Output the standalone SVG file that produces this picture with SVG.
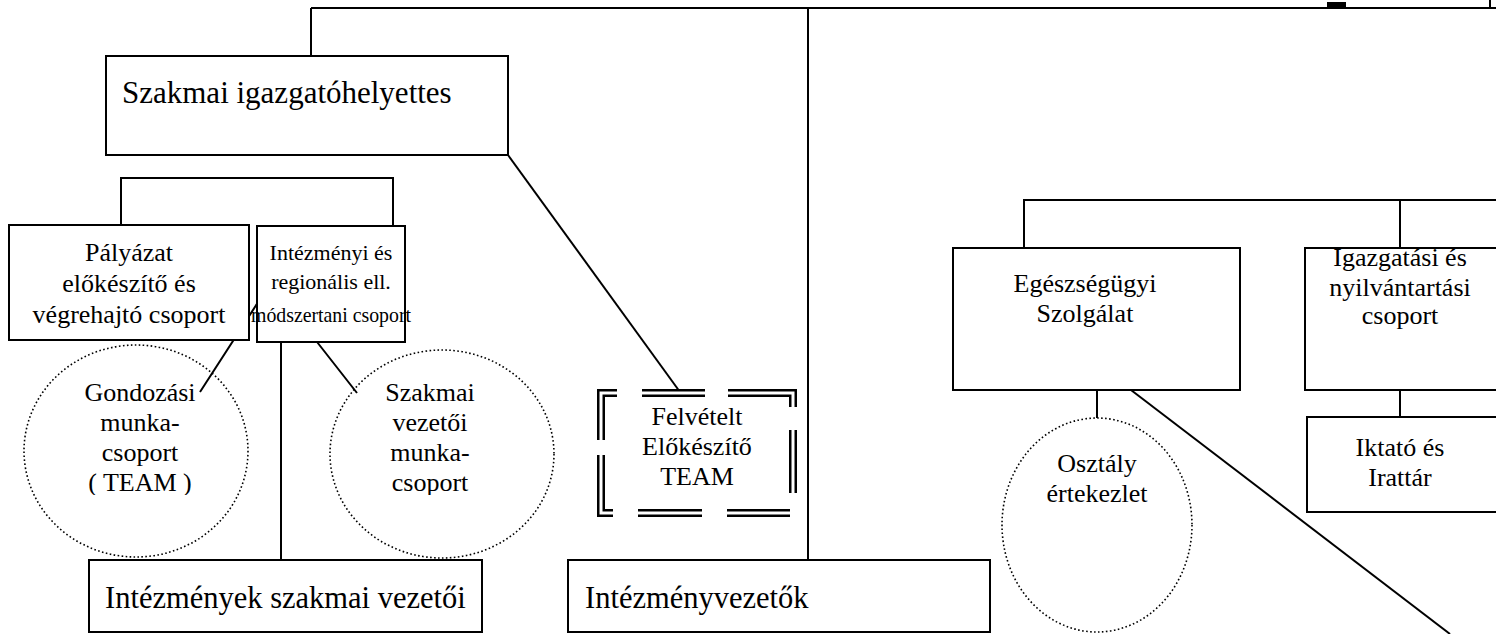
<svg xmlns="http://www.w3.org/2000/svg" width="1496" height="634" viewBox="0 0 1496 634">
<style>
.box{fill:#fff;stroke:#000;stroke-width:2}
.ln{stroke:#000;stroke-width:2;fill:none}
.dot{fill:none;stroke:#000;stroke-width:1.6;stroke-dasharray:1.6 2.4}
text{font-family:"Liberation Serif","Times New Roman",serif;fill:#000}
.big{font-size:31px}
.big2{font-size:30.5px}
.sm{font-size:26px;text-anchor:middle}
.xs{font-size:22px;text-anchor:middle}
</style>
<defs>
<clipPath id="clipC"><rect x="0" y="300" width="600" height="195"/></clipPath>
<path id="dbox" d="M601,440 V393 H617 M642,393 H705 M728,393 H793 V407 M793,430 V493 M790,513 H727 M702,513 H638 M613,513 H601 V455"/>
</defs>
<g id="connectors">
<path class="ln" d="M311,8 H1496 M311,8 V56 M1490,0 V8"/>
<rect x="1327" y="2" width="19" height="5" fill="#000"/>
<path class="ln" d="M808,8 V560"/>
<path class="ln" d="M121,225 V178 H393 V226"/>
<path class="ln" d="M508,155 L680,392"/>
<path class="ln" d="M262,296 L200,392 M281,296 L357,393 M281,342 V560"/>
<path class="ln" d="M1024,248 V200 H1496 M1400,200 V248 M1400,390 V417 M1097,390 V418"/>
<path class="ln" d="M1131,390 L1450,634"/>
</g>
<g id="n-szakmai-igh"><rect class="box" x="106" y="56" width="402" height="99"/><text class="big" x="122" y="103">Szakmai igazgatóhelyettes</text></g>
<g id="n-palyazat"><rect class="box" x="9" y="225" width="240" height="115"/><text class="sm" x="129" y="261">Pályázat</text><text class="sm" x="129" y="292">előkészítő és</text><text class="sm" x="129" y="323">végrehajtó csoport</text></g>
<g id="n-intezmenyi"><rect class="box" x="257" y="226" width="148" height="116"/><text class="xs" x="331" y="260">Intézményi és</text><text class="xs" x="331" y="289">regionális ell.</text><text class="xs" x="331" y="322" textLength="160" lengthAdjust="spacingAndGlyphs">módszertani csoport</text></g>
<g id="n-gondozasi"><ellipse class="dot" cx="136" cy="451" rx="112" ry="106"/><g clip-path="url(#clipC)"><text class="sm" x="140" y="401">Gondozási</text><text class="sm" x="140" y="431">munka-</text><text class="sm" x="140" y="461">csoport</text><text class="sm" x="140" y="491">( TEAM )</text></g></g>
<g id="n-szakmai-vez"><ellipse class="dot" cx="442" cy="454" rx="112" ry="104"/><g clip-path="url(#clipC)"><text class="sm" x="430" y="401">Szakmai</text><text class="sm" x="430" y="431">vezetői</text><text class="sm" x="430" y="461">munka-</text><text class="sm" x="430" y="491">csoport</text></g></g>
<g id="n-felvetelt"><use href="#dbox" fill="none" stroke="#000" stroke-width="8"/><use href="#dbox" fill="none" stroke="#fff" stroke-width="3"/><text class="sm" x="697" y="425">Felvételt</text><text class="sm" x="697" y="455">Előkészítő</text><text class="sm" x="697" y="485">TEAM</text></g>
<g id="n-int-szakmai"><rect class="box" x="89" y="560" width="393" height="72"/><text class="big2" x="105" y="608">Intézmények szakmai vezetői</text></g>
<g id="n-intvez"><rect class="box" x="568" y="560" width="422" height="72"/><text class="big2" x="585" y="608">Intézményvezetők</text></g>
<g id="n-egeszseg"><rect class="box" x="953" y="248" width="287" height="142"/><text class="sm" x="1085" y="292">Egészségügyi</text><text class="sm" x="1085" y="322">Szolgálat</text></g>
<g id="n-osztaly"><ellipse class="dot" cx="1097" cy="525" rx="95" ry="107"/><text class="sm" x="1097" y="472">Osztály</text><text class="sm" x="1097" y="502">értekezlet</text></g>
<g id="n-igazgatasi"><rect class="box" x="1305" y="248" width="200" height="142"/><text class="sm" x="1400" y="266">Igazgatási és</text><text class="sm" x="1400" y="296">nyilvántartási</text><text class="sm" x="1400" y="324">csoport</text></g>
<g id="n-iktato"><rect class="box" x="1307" y="417" width="200" height="95"/><text class="sm" x="1400" y="456">Iktató és</text><text class="sm" x="1400" y="486">Irattár</text></g>
</svg>
